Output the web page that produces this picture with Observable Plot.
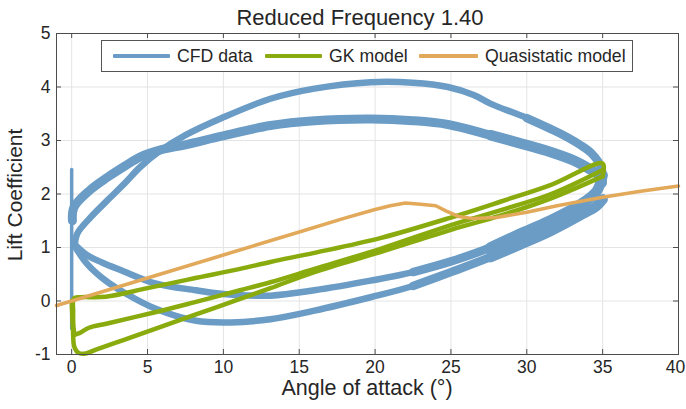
<!DOCTYPE html>
<html><head><meta charset="utf-8">
<script src="https://cdn.jsdelivr.net/npm/d3@7"></script>
<script src="https://cdn.jsdelivr.net/npm/@observablehq/plot@0.6"></script>
<style>
body{margin:0;background:#fff;font-family:"Liberation Sans",Arial,Helvetica,sans-serif;color:#262626;}
#wrap{position:relative;width:686px;height:409px;overflow:hidden;}
#wrap svg{position:absolute;left:0;top:0;}
.txt{position:absolute;white-space:nowrap;color:#262626;line-height:22px;}
#title{left:160px;width:400px;top:7px;text-align:center;font-size:22px;}
#xlabel{left:167px;width:400px;top:377px;text-align:center;font-size:21.5px;}
#ylabel{left:15px;top:195px;font-size:21px;transform:translate(-50%,-50%) rotate(-90deg);}
#legend{position:absolute;left:101px;top:40px;width:532px;height:32px;border:1px solid #555;background:#fff;box-sizing:border-box;}
.lt{position:absolute;top:0;height:30px;font-size:17.7px;line-height:30px;white-space:nowrap;color:#262626;}
.sw{position:absolute;top:13px;height:4px;border-radius:1px;}
</style></head><body>
<div id="wrap"></div>
<script>
// ---------- data ----------
const alphaTicks = [0, 5, 10, 15, 20, 25, 30, 35, 40];
const clTicks = [-1, 0, 1, 2, 3, 4, 5];

// CFD data branches [angle of attack, lift coefficient]
const cfdSpike = [[0, -0.52], [0, 2.46]];
const cfdUp1 = [[0.2, 1.02], [0.37, 1.26], [1.2, 1.55], [2.35, 1.88], [3.5, 2.2], [4.5, 2.5], [5.8, 2.8], [7.5, 3.1], [9.9, 3.42], [13.1, 3.78], [16, 3.97], [19.7, 4.09], [22.5, 4.08], [24.8, 4.0], [26.5, 3.85], [27.6, 3.69], [30, 3.42], [32.2, 3.13], [33.5, 2.92], [34.3, 2.75], [34.9, 2.5], [35, 2.2]];
const cfdUp2 = [[0.05, 1.5], [0.15, 1.75], [1.2, 2.07], [2.35, 2.31], [3.5, 2.52], [4.5, 2.69], [5.8, 2.82], [7.5, 2.92], [9.9, 3.08], [13.1, 3.28], [16, 3.37], [19.7, 3.4], [22.5, 3.37], [24.8, 3.3], [27.6, 3.1], [29.4, 2.96], [31.6, 2.78], [33.3, 2.6], [34.65, 2.38]];
const cfdDown1 = [[35, 2.35], [34.6, 2.05], [33.5, 1.8], [31.5, 1.5], [29.5, 1.25], [27.6, 1.0], [25, 0.74], [22.5, 0.54], [19.7, 0.38], [16, 0.2], [13.1, 0.1], [10, 0.13], [8.2, 0.2], [5.5, 0.33], [3.3, 0.57], [2, 0.72], [1, 0.86], [0.26, 1.04]];
const cfdDown2 = [[35, 1.9], [34.6, 1.78], [33.5, 1.6], [31.5, 1.3], [29.5, 1.05], [27.6, 0.82], [25, 0.54], [22.5, 0.28], [19.7, 0.07], [16, -0.18], [13.1, -0.34], [10.5, -0.4], [8.2, -0.37], [5.5, -0.14], [3.5, 0.15], [2.24, 0.38], [1, 0.7], [0.26, 1.0]];

// GK model [angle of attack, lift coefficient]
const gkUpFirst = [[0, 0.0], [0.08, -0.5], [0.18, -0.86], [0.45, -0.97], [0.92, -0.98], [1.6, -0.91], [3.5, -0.72], [5.5, -0.52], [8, -0.27], [11.1, 0.04], [13.1, 0.24], [16, 0.54], [20.4, 0.92], [25, 1.33], [28.3, 1.6], [31.6, 1.92], [35, 2.33]];
const gkDown = [[35, 2.33], [35, 2.57], [31.6, 2.17], [28.3, 1.86], [25, 1.56], [20.4, 1.18], [16, 0.9], [13.1, 0.73], [11.1, 0.6], [8, 0.42], [5, 0.24], [2.24, 0.08], [0.6, 0.07], [0.15, 0.05], [0.1, -0.2], [0.12, -0.5], [0.2, -0.63]];
const gkUpSecond = [[0.2, -0.63], [0.5, -0.6], [1.14, -0.5], [2.35, -0.42], [5.5, -0.21], [8, -0.03], [11.1, 0.2], [13.1, 0.35], [16, 0.6], [20.4, 0.98], [25, 1.42], [28.3, 1.7], [31.6, 2.0], [35, 2.45]];

// Quasistatic model [angle of attack, lift coefficient]
const quasi = [[-1, -0.085], [0, 0.0], [5, 0.43], [10, 0.86], [15, 1.29], [18, 1.55], [20, 1.71], [21, 1.78], [22, 1.83], [23, 1.81], [24, 1.78], [24.7, 1.68], [25.5, 1.58], [26.5, 1.54], [28, 1.56], [30, 1.66], [32, 1.78], [35, 1.94], [37.5, 2.05], [40, 2.15]];

const seriesNames = ["CFD data", "GK model", "Quasistatic model"];
const seriesColors = ["#6a9cc6", "#8aab0e", "#e2a95a"];

// ---------- chart ----------
const [cBlue, cGreen, cOrange] = seriesColors;
const W = 686, H = 409, mL = 56, mR = 8, mT = 33, mB = 55;
const pw = W - mL - mR, ph = H - mT - mB, tk = 5;
const X = d => d[0], Y = d => d[1];
const blueLine = (arr, w) => Plot.line(arr, {x: X, y: Y, stroke: cBlue, strokeWidth: w, curve: "catmull-rom"});
const tail = (arr, lo) => arr.filter(d => d[0] >= lo);
const xMax = d3.max(alphaTicks);
const tickText = (data, dx) => Plot.text(data, {x: d => d, frameAnchor: "bottom", lineAnchor: "top", dy: 6, dx, text: d => String(d), fontSize: 17.5, fill: "#262626"});

const chart = Plot.plot({
  width: W, height: H,
  marginLeft: mL, marginRight: mR, marginTop: mT, marginBottom: mB,
  x: {domain: [-1, 40], axis: null},
  y: {domain: [-1, 5], ticks: clTicks, tickSize: 0, tickPadding: 6, tickFormat: d => String(d), label: null},
  style: {fontFamily: "'Liberation Sans', Arial, sans-serif", fontSize: "17.5px", color: "#262626", background: "transparent", overflow: "visible"},
  marks: [
    Plot.ruleX(alphaTicks, {x: d => d, stroke: "#e4e4e4", strokeWidth: 1}),
    Plot.ruleY(clTicks, {y: d => d, stroke: "#e4e4e4", strokeWidth: 1}),
    Plot.line(cfdSpike, {x: X, y: Y, stroke: cBlue, strokeWidth: 3.5}),
    blueLine(cfdUp1, 6.5),
    blueLine(cfdUp2, 9),
    blueLine(cfdDown1, 6.5),
    blueLine(cfdDown2, 6.5),
    blueLine(tail(cfdDown1, 22), 8.5),
    blueLine(tail(cfdDown2, 22), 8.5),
    blueLine(tail(cfdDown1, 27), 10.5),
    blueLine(tail(cfdDown2, 27), 10.5),
    blueLine(tail(cfdUp1, 28), 8.5),
    blueLine(tail(cfdUp2, 27), 10.5),
    Plot.line(gkUpFirst, {x: X, y: Y, stroke: cGreen, strokeWidth: 4.5, curve: "catmull-rom"}),
    Plot.line(gkDown, {x: X, y: Y, stroke: cGreen, strokeWidth: 4.5, curve: "catmull-rom"}),
    Plot.line(gkUpSecond, {x: X, y: Y, stroke: cGreen, strokeWidth: 4.5, curve: "catmull-rom"}),
    Plot.line(quasi, {x: X, y: Y, stroke: cOrange, strokeWidth: 3.5}),
    Plot.frame({stroke: "#4d4d4d", strokeWidth: 1}),
    Plot.ruleX(alphaTicks, {x: d => d, stroke: "#4d4d4d", insetTop: ph - tk}),
    Plot.ruleX(alphaTicks, {x: d => d, stroke: "#4d4d4d", insetBottom: ph - tk}),
    Plot.ruleY(clTicks, {y: d => d, stroke: "#4d4d4d", insetRight: pw - tk}),
    Plot.ruleY(clTicks, {y: d => d, stroke: "#4d4d4d", insetLeft: pw - tk}),
    tickText(alphaTicks.filter(d => d < xMax), 0),
    tickText(alphaTicks.filter(d => d === xMax), -3)
  ]
});

const wrap = document.getElementById("wrap");
wrap.appendChild(chart);

function addText(id, text) {
  const el = document.createElement("div");
  el.id = id; el.className = "txt"; el.textContent = text;
  wrap.appendChild(el);
}
addText("title", "Reduced Frequency 1.40");
addText("xlabel", "Angle of attack (°)");
addText("ylabel", "Lift Coefficient");

// legend
const legend = document.createElement("div");
legend.id = "legend";
const swX = [11, 163, 317];
const swW = [57, 57, 59];
const txX = [75, 227, 383];
seriesNames.forEach((name, i) => {
  const sw = document.createElement("div");
  sw.className = "sw";
  sw.style.left = swX[i] + "px";
  sw.style.width = swW[i] + "px";
  sw.style.background = seriesColors[i];
  legend.appendChild(sw);
  const t = document.createElement("div");
  t.className = "lt";
  t.style.left = txX[i] + "px";
  t.textContent = name;
  legend.appendChild(t);
});
wrap.appendChild(legend);
</script>
</body></html>
